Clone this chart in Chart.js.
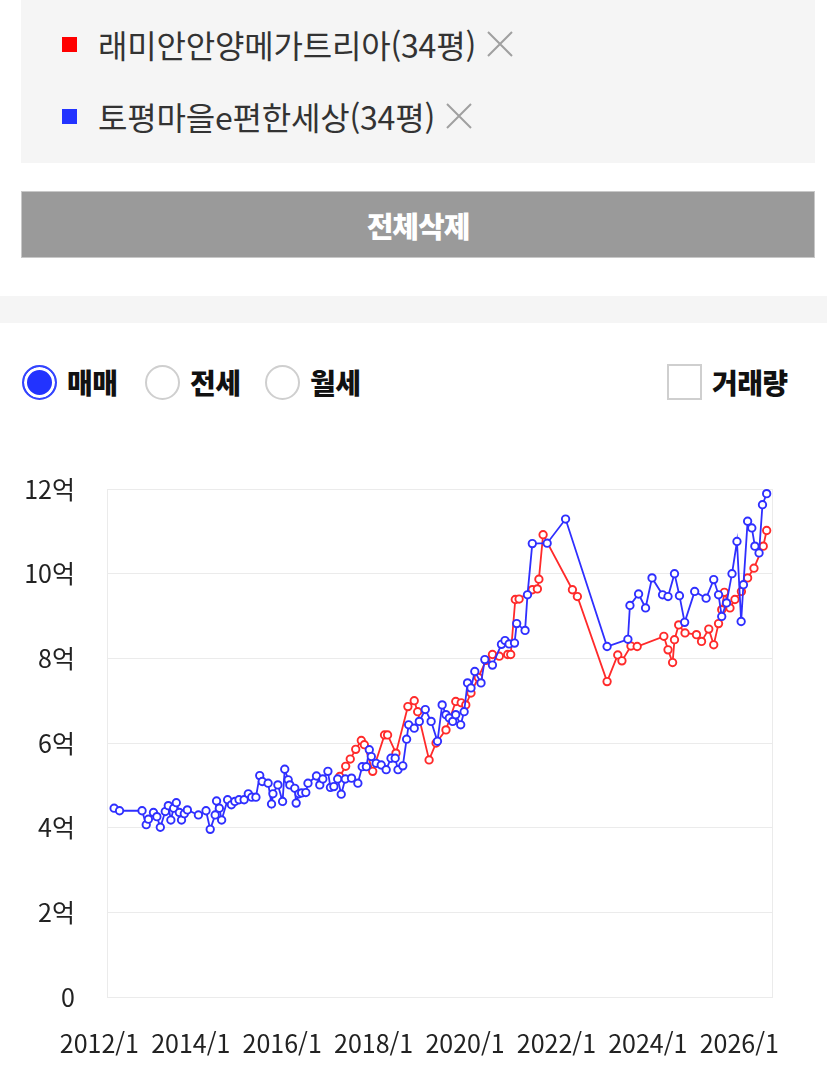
<!DOCTYPE html>
<html lang="ko">
<head>
<meta charset="utf-8">
<script src="https://cdn.jsdelivr.net/npm/chart.js@4.4.1/dist/chart.umd.min.js"></script>
<style>
body{margin:0;width:827px;height:1074px;overflow:hidden;background:#fff;font-family:"Noto Sans CJK KR","Noto Sans",sans-serif;position:relative}
.box{position:absolute;left:21px;top:0;width:794px;height:163px;background:#f5f5f5}
.item{position:absolute;left:41px;height:44px;display:flex;align-items:center;font-size:32px;color:#333;white-space:nowrap;letter-spacing:-0.2px}
.sq{width:15px;height:15px;margin-right:21px}
.x{margin-left:10px}
.btn{position:absolute;left:21px;top:191px;width:792px;height:65px;background:#9a9a9a;border:1px solid #c8c8c8;color:#fff;font-weight:800;font-size:29px;letter-spacing:-1px;display:flex;align-items:center;justify-content:center}
.band{position:absolute;left:0;top:296px;width:827px;height:27px;background:#f5f5f5}
.row{position:absolute;top:362px;height:40px;display:flex;align-items:center;font-weight:900;font-size:28px;color:#111;letter-spacing:-0.6px}
.radio{width:31px;height:31px;border-radius:50%;border:2px solid #cfcfcf;background:#fff;margin-right:10px}
.radio.on{background:#2233ff;border-color:#3344ff;box-shadow:inset 0 0 0 3px #fff}
.chk{width:31px;height:32px;border:2px solid #cfcfcf;margin-right:10px}
canvas{position:absolute;left:0;top:440px}
</style>
</head>
<body>
<div class="box">
  <div class="item" style="top:22px"><div class="sq" style="background:#ff0000"></div>래미안안양메가트리아(34평)<svg class="x" width="28" height="28"><path d="M2 2L26 26M26 2L2 26" stroke="#a0a0a0" stroke-width="2"/></svg></div>
  <div class="item" style="top:94px"><div class="sq" style="background:#2233ff"></div>토평마을e편한세상(34평)<svg class="x" width="28" height="28"><path d="M2 2L26 26M26 2L2 26" stroke="#a0a0a0" stroke-width="2"/></svg></div>
</div>
<div class="btn">전체삭제</div>
<div class="band"></div>
<div class="row" style="left:22px"><div class="radio on"></div>매매</div>
<div class="row" style="left:145px"><div class="radio"></div>전세</div>
<div class="row" style="left:265px"><div class="radio"></div>월세</div>
<div class="row" style="left:667px"><div class="chk"></div>거래량</div>
<canvas id="myChart" width="827" height="634"></canvas>
<script>
var redName = "래미안안양메가트리아(34평)"
var blueName = "토평마을e편한세상(34평)"

var redDates = ["2017-04-04","2017-05-21","2017-06-27","2017-08-10","2017-09-24","2017-10-18","2017-12-24",
"2018-03-27","2018-04-21","2018-06-27","2018-10-01","2018-11-21","2018-12-18","2019-03-18","2019-05-13",
"2019-08-01","2019-10-18","2019-12-01","2020-01-07","2020-02-18","2020-04-16","2020-06-16","2020-08-07",
"2020-10-01","2020-12-07","2021-01-01","2021-02-07","2021-03-07","2021-06-21","2021-08-01","2021-08-13",
"2021-09-16","2022-05-07","2022-06-16","2023-02-10","2023-05-04","2023-06-07","2023-08-18","2023-10-07",
"2024-05-07","2024-06-10","2024-07-16","2024-08-01","2024-09-04","2024-10-24","2025-01-24","2025-03-04",
"2025-05-01","2025-06-10","2025-07-18","2025-08-13","2025-09-04","2025-10-18","2025-11-27","2026-01-18",
"2026-03-07","2026-04-27","2026-07-10","2026-08-07"]
var redValues = [5.21,5.45,5.62,5.85,6.06,5.96,5.33,
6.19,6.19,5.76,6.86,7.00,6.74,5.60,6.00,
6.31,6.98,6.95,6.90,7.18,7.55,7.95,8.09,
8.05,8.09,8.09,9.39,9.40,9.62,9.64,9.87,
10.92,9.62,9.46,7.45,8.08,7.94,8.29,8.28,
8.52,8.20,7.90,8.44,8.79,8.60,8.56,8.40,
8.69,8.32,8.82,9.15,9.56,9.19,9.39,9.58,
9.90,10.13,10.65,11.02]

var blueDates = ["2012-04-27","2012-06-10","2012-12-07","2013-01-10","2013-01-27","2013-03-07","2013-04-04",
"2013-05-01","2013-06-10","2013-07-04","2013-07-24","2013-08-16","2013-09-07","2013-10-01","2013-10-18",
"2013-11-10","2013-12-04","2014-03-01","2014-05-01","2014-06-04","2014-07-13","2014-07-24","2014-08-16",
"2014-09-04","2014-10-21","2014-11-21","2014-12-18","2015-01-21","2015-03-01","2015-04-04","2015-05-01",
"2015-06-04","2015-07-04","2015-07-24","2015-09-10","2015-10-07","2015-10-18","2015-11-27","2016-01-04",
"2016-01-21","2016-02-18","2016-03-01","2016-04-10","2016-04-21","2016-05-13","2016-06-04","2016-07-07",
"2016-07-24","2016-10-01","2016-10-27","2016-11-21","2017-01-01","2017-01-21","2017-02-18","2017-03-18",
"2017-04-16","2017-05-18","2017-07-07","2017-08-27","2017-10-01","2017-11-04","2017-11-27","2017-12-13",
"2018-01-21","2018-03-01","2018-04-10","2018-05-18","2018-06-21","2018-07-13","2018-08-21","2018-09-21",
"2018-10-07","2018-11-21","2019-01-01","2019-02-18","2019-04-04","2019-05-24","2019-07-01","2019-08-01",
"2019-08-27","2019-09-24","2019-10-18","2019-11-27","2019-12-24","2020-01-21","2020-02-18","2020-03-18",
"2020-05-07","2020-06-07","2020-08-07","2020-10-18","2020-11-16","2020-12-18","2021-02-01","2021-02-18",
"2021-04-24","2021-05-13","2021-06-21","2021-10-18","2022-03-13","2023-02-10","2023-07-24","2023-08-10",
"2023-10-18","2023-12-13","2024-02-04","2024-04-27","2024-06-10","2024-08-01","2024-09-10","2024-10-21",
"2025-01-10","2025-04-10","2025-06-10","2025-07-18","2025-08-13","2025-09-21","2025-11-04","2025-12-13",
"2026-01-16","2026-02-04","2026-03-07","2026-04-10","2026-05-04","2026-06-07","2026-07-04","2026-08-07"]
var blueValues = [4.46,4.40,4.40,4.07,4.20,4.36,4.26,
4.01,4.38,4.52,4.18,4.46,4.59,4.36,4.18,
4.33,4.42,4.30,4.40,3.96,4.30,4.63,4.46,
4.18,4.66,4.54,4.62,4.66,4.66,4.80,4.72,
4.72,5.23,5.09,5.05,4.56,4.80,5.01,4.62,
5.38,5.13,5.01,4.93,4.58,4.80,4.82,4.83,
5.05,5.22,5.01,5.15,5.33,4.95,4.97,5.15,
4.79,5.15,5.17,5.05,5.44,5.44,5.84,5.68,
5.52,5.48,5.37,5.64,5.64,5.37,5.46,6.09,
6.43,6.35,6.51,6.79,6.51,6.04,6.90,6.67,
6.59,6.51,6.67,6.43,6.74,7.42,7.30,7.69,
7.42,7.97,7.84,8.33,8.42,8.34,8.36,8.82,
8.66,9.50,10.71,10.72,11.29,8.28,8.45,9.25,
9.52,9.19,9.90,9.50,9.46,10.00,9.48,8.85,
9.58,9.42,9.86,9.50,8.99,9.31,10.00,10.76,
8.87,9.74,11.24,11.08,10.65,10.49,11.63,11.89]

var yTicks = [0,2,4,6,8,10,12]
var xTickYears = [2012,2014,2016,2018,2020,2022,2024,2026]
var xMin = 2.0
var xMax = 176.6

// months since 2012/1
function toMonth(d){
    var p = d.split("-")
    return (p[0]-2012)*12 + (p[1]-1) + (p[2]-1)/30
}

function points(dates, values){
    var out = []
    for(var i=0;i<dates.length;i++){
        out.push({x: toMonth(dates[i]), y: values[i]})
    }
    return out
}

var gridColor = "#ebebeb"
var tickFont = {family: "'Noto Sans CJK KR', 'Noto Sans', sans-serif", size: 25}

new Chart("myChart", {
    type: "line",
    data: {
        datasets: [{
            label: blueName,
            data: points(blueDates, blueValues),
            borderColor: "#2f2fff",
            backgroundColor: "#fff",
            pointBackgroundColor: "#fff",
            pointBorderColor: "#2f2fff",
            borderWidth: 1.8,
            pointRadius: 3.7,
            pointBorderWidth: 1.9
        },{
            label: redName,
            data: points(redDates, redValues),
            borderColor: "#ff2a2a",
            backgroundColor: "#fff",
            pointBackgroundColor: "#fff",
            pointBorderColor: "#ff2a2a",
            borderWidth: 1.8,
            pointRadius: 3.7,
            pointBorderWidth: 1.9
        }]
    },
    options: {
        responsive: false,
        animation: false,
        layout: {padding: {top: 49, right: 55, bottom: 17, left: 0}},
        plugins: {legend: {display: false}, tooltip: {enabled: false}},
        scales: {
            x: {
                type: "linear",
                min: xMin,
                max: xMax,
                afterBuildTicks: function(scale){
                    var t = xTickYears.map(function(y){ return {value: (y-2012)*12} })
                    t.push({value: xMax})
                    scale.ticks = t
                },
                afterFit: function(scale){ scale.height = 60 },
                ticks: {
                    autoSkip: false,
                    maxRotation: 0,
                    padding: 31,
                    color: "#222",
                    font: tickFont,
                    callback: function(v){
                        if (v === xMax) return ""
                        return (2012 + v/12) + "/1"
                    }
                },
                grid: {
                    drawTicks: false,
                    color: function(c){ return c.tick && c.tick.value === xMax ? gridColor : "transparent" }
                },
                border: {color: gridColor}
            },
            y: {
                min: 0,
                max: 12,
                afterBuildTicks: function(scale){
                    scale.ticks = yTicks.map(function(v){ return {value: v} })
                },
                afterFit: function(scale){ scale.width = 107 },
                ticks: {
                    padding: 32,
                    color: "#222",
                    font: tickFont,
                    callback: function(v){ return v === 0 ? "0" : v + "억" }
                },
                grid: {drawTicks: false, color: gridColor},
                border: {color: gridColor}
            }
        }
    }
})
</script>
</body>
</html>
